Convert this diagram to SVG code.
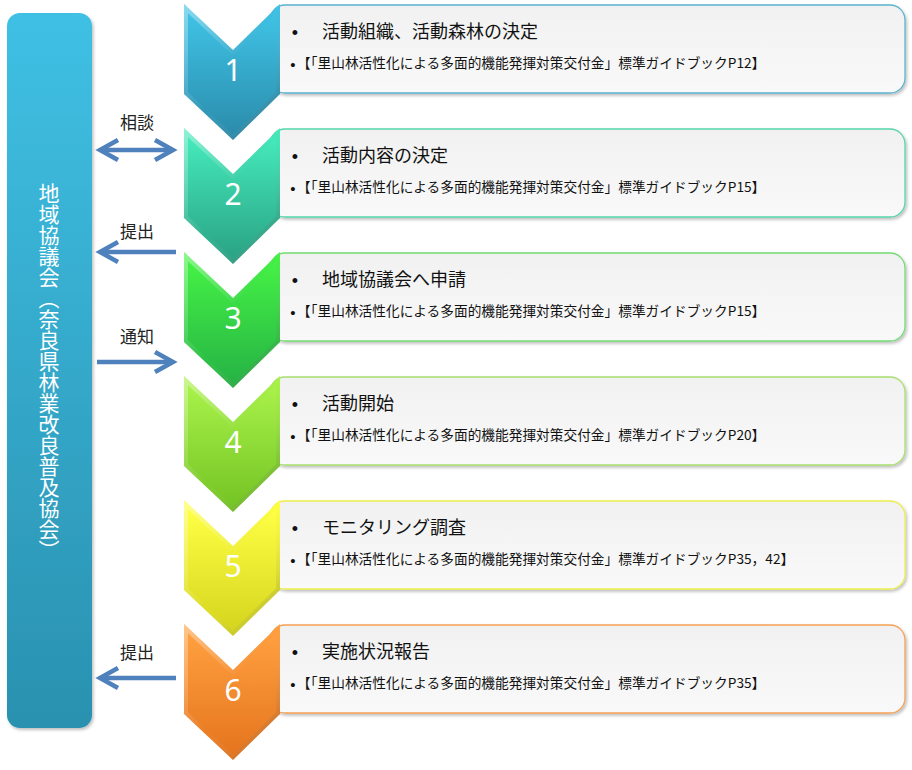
<svg xmlns="http://www.w3.org/2000/svg" width="912" height="770" viewBox="0 0 912 770">
<style>
.box{stroke-width:1.3}
.title{font-family:"Noto Sans CJK JP","Noto Sans",sans-serif;font-size:18px;fill:#111}
.sub{font-family:"Noto Sans CJK JP","Noto Sans",sans-serif;font-size:13.7px;fill:#111}
.bul{font-family:"Liberation Sans",sans-serif;fill:#111;text-anchor:middle}
.num{font-family:"Noto Sans","Open Sans",sans-serif;font-size:30px;fill:#fff;text-anchor:middle}
.lbl{font-family:"Noto Sans CJK JP","Noto Sans",sans-serif;font-size:17px;fill:#222;text-anchor:middle}
.arr{stroke:#4f81bd;stroke-width:4.5;fill:none}
.bar-text{font-family:"Noto Sans CJK JP","Noto Sans",sans-serif;font-size:21px;fill:#fff;writing-mode:vertical-rl}
</style>
<defs>
<filter id="sh" x="-10%" y="-10%" width="130%" height="130%">
<feDropShadow dx="1.5" dy="2" stdDeviation="1.5" flood-color="#000" flood-opacity="0.25"/>
</filter>
<linearGradient id="boxfill" x1="0" y1="0" x2="0" y2="1">
<stop offset="0" stop-color="#f1f1f1"/><stop offset="1" stop-color="#f9f9f9"/>
</linearGradient>
<linearGradient id="bar" x1="0" y1="0" x2="0" y2="1">
<stop offset="0" stop-color="#3fc0e4"/><stop offset="1" stop-color="#2a91b0"/>
</linearGradient>
<linearGradient id="bevel" x1="0" y1="0" x2="1" y2="1">
<stop offset="0" stop-color="#fff" stop-opacity="0.4"/><stop offset="0.5" stop-color="#fff" stop-opacity="0"/><stop offset="1" stop-color="#000" stop-opacity="0.25"/>
</linearGradient>
<linearGradient id="g1" x1="0" y1="0" x2="0" y2="1"><stop offset="0" stop-color="#3fc3e5"/><stop offset="1" stop-color="#2b8cac"/></linearGradient>
<linearGradient id="g2" x1="0" y1="0" x2="0" y2="1"><stop offset="0" stop-color="#45eabb"/><stop offset="1" stop-color="#2aa385"/></linearGradient>
<linearGradient id="g3" x1="0" y1="0" x2="0" y2="1"><stop offset="0" stop-color="#45f245"/><stop offset="1" stop-color="#26b345"/></linearGradient>
<linearGradient id="g4" x1="0" y1="0" x2="0" y2="1"><stop offset="0" stop-color="#a9f24a"/><stop offset="1" stop-color="#74c424"/></linearGradient>
<linearGradient id="g5" x1="0" y1="0" x2="0" y2="1"><stop offset="0" stop-color="#ffff45"/><stop offset="1" stop-color="#d5d51e"/></linearGradient>
<linearGradient id="g6" x1="0" y1="0" x2="0" y2="1"><stop offset="0" stop-color="#ffa040"/><stop offset="1" stop-color="#e5751e"/></linearGradient>
<marker id="ah" markerUnits="userSpaceOnUse" viewBox="-4 -4 28 28" markerWidth="28" markerHeight="28" refX="19" refY="10" orient="auto-start-reverse">
<path d="M1,0 L19,10 L1,20" fill="none" stroke="#4f81bd" stroke-width="4.5" stroke-linejoin="miter"/>
</marker>
</defs>

<rect width="912" height="770" fill="#fff"/>

<g id="bar-node">
<rect x="7" y="13" width="85" height="715" rx="13" fill="url(#bar)" filter="url(#sh)"/>
<text class="bar-text" x="49" y="183">地域協議会（奈良県林業改良普及協会）</text>
</g>

<g id="connectors">
<line class="arr" x1="100" y1="150" x2="173" y2="150" marker-start="url(#ah)" marker-end="url(#ah)"/>
<text class="lbl" x="137" y="129">相談</text>
<line class="arr" x1="176" y1="252" x2="100" y2="252" marker-end="url(#ah)"/>
<text class="lbl" x="137" y="238">提出</text>
<line class="arr" x1="97" y1="362" x2="173" y2="362" marker-end="url(#ah)"/>
<text class="lbl" x="137" y="343">通知</text>
<line class="arr" x1="176" y1="678" x2="100" y2="678" marker-end="url(#ah)"/>
<text class="lbl" x="137" y="659">提出</text>
</g>

<g id="step1" transform="translate(0,4)">
<rect class="box" x="270" y="1" width="635" height="88" rx="15" fill="url(#boxfill)" stroke="#5ab3cf" filter="url(#sh)"/>
<polygon points="184,0 233,46 280,0 280,90 233,136 184,90" fill="url(#g1)"/>
<polygon points="184,0 233,46 280,0 280,90 233,136 184,90" fill="url(#bevel)"/>
<polygon points="188,9.3 233,51.5 276,9.3 276,88.3 233,130.5 188,88.3" fill="url(#g1)"/>
<text class="num" x="233" y="77">1</text>
<text class="bul" x="295" y="35" font-size="18">•</text>
<text class="title" x="322" y="34">活動組織、活動森林の決定</text>
<text class="bul" x="293" y="66" font-size="15">•</text>
<text class="sub" x="297" y="64">【「里山林活性化による多面的機能発揮対策交付金」標準ガイドブックP12】</text>
</g>

<g id="step2" transform="translate(0,128)">
<rect class="box" x="270" y="1" width="635" height="88" rx="15" fill="url(#boxfill)" stroke="#55d6a8" filter="url(#sh)"/>
<polygon points="184,0 233,46 280,0 280,90 233,136 184,90" fill="url(#g2)"/>
<polygon points="184,0 233,46 280,0 280,90 233,136 184,90" fill="url(#bevel)"/>
<polygon points="188,9.3 233,51.5 276,9.3 276,88.3 233,130.5 188,88.3" fill="url(#g2)"/>
<text class="num" x="233" y="77">2</text>
<text class="bul" x="295" y="35" font-size="18">•</text>
<text class="title" x="322" y="34">活動内容の決定</text>
<text class="bul" x="293" y="66" font-size="15">•</text>
<text class="sub" x="297" y="64">【「里山林活性化による多面的機能発揮対策交付金」標準ガイドブックP15】</text>
</g>

<g id="step3" transform="translate(0,252)">
<rect class="box" x="270" y="1" width="635" height="88" rx="15" fill="url(#boxfill)" stroke="#72dc72" filter="url(#sh)"/>
<polygon points="184,0 233,46 280,0 280,90 233,136 184,90" fill="url(#g3)"/>
<polygon points="184,0 233,46 280,0 280,90 233,136 184,90" fill="url(#bevel)"/>
<polygon points="188,9.3 233,51.5 276,9.3 276,88.3 233,130.5 188,88.3" fill="url(#g3)"/>
<text class="num" x="233" y="77">3</text>
<text class="bul" x="295" y="35" font-size="18">•</text>
<text class="title" x="322" y="34">地域協議会へ申請</text>
<text class="bul" x="293" y="66" font-size="15">•</text>
<text class="sub" x="297" y="64">【「里山林活性化による多面的機能発揮対策交付金」標準ガイドブックP15】</text>
</g>

<g id="step4" transform="translate(0,376)">
<rect class="box" x="270" y="1" width="635" height="88" rx="15" fill="url(#boxfill)" stroke="#a6e06c" filter="url(#sh)"/>
<polygon points="184,0 233,46 280,0 280,90 233,136 184,90" fill="url(#g4)"/>
<polygon points="184,0 233,46 280,0 280,90 233,136 184,90" fill="url(#bevel)"/>
<polygon points="188,9.3 233,51.5 276,9.3 276,88.3 233,130.5 188,88.3" fill="url(#g4)"/>
<text class="num" x="233" y="77">4</text>
<text class="bul" x="295" y="35" font-size="18">•</text>
<text class="title" x="322" y="34">活動開始</text>
<text class="bul" x="293" y="66" font-size="15">•</text>
<text class="sub" x="297" y="64">【「里山林活性化による多面的機能発揮対策交付金」標準ガイドブックP20】</text>
</g>

<g id="step5" transform="translate(0,500)">
<rect class="box" x="270" y="1" width="635" height="88" rx="15" fill="url(#boxfill)" stroke="#eeee4a" filter="url(#sh)"/>
<polygon points="184,0 233,46 280,0 280,90 233,136 184,90" fill="url(#g5)"/>
<polygon points="184,0 233,46 280,0 280,90 233,136 184,90" fill="url(#bevel)"/>
<polygon points="188,9.3 233,51.5 276,9.3 276,88.3 233,130.5 188,88.3" fill="url(#g5)"/>
<text class="num" x="233" y="77">5</text>
<text class="bul" x="295" y="35" font-size="18">•</text>
<text class="title" x="322" y="34">モニタリング調査</text>
<text class="bul" x="293" y="66" font-size="15">•</text>
<text class="sub" x="297" y="64">【「里山林活性化による多面的機能発揮対策交付金」標準ガイドブックP35，42】</text>
</g>

<g id="step6" transform="translate(0,624)">
<rect class="box" x="270" y="1" width="635" height="88" rx="15" fill="url(#boxfill)" stroke="#f6a052" filter="url(#sh)"/>
<polygon points="184,0 233,46 280,0 280,90 233,136 184,90" fill="url(#g6)"/>
<polygon points="184,0 233,46 280,0 280,90 233,136 184,90" fill="url(#bevel)"/>
<polygon points="188,9.3 233,51.5 276,9.3 276,88.3 233,130.5 188,88.3" fill="url(#g6)"/>
<text class="num" x="233" y="77">6</text>
<text class="bul" x="295" y="35" font-size="18">•</text>
<text class="title" x="322" y="34">実施状況報告</text>
<text class="bul" x="293" y="66" font-size="15">•</text>
<text class="sub" x="297" y="64">【「里山林活性化による多面的機能発揮対策交付金」標準ガイドブックP35】</text>
</g>
</svg>
